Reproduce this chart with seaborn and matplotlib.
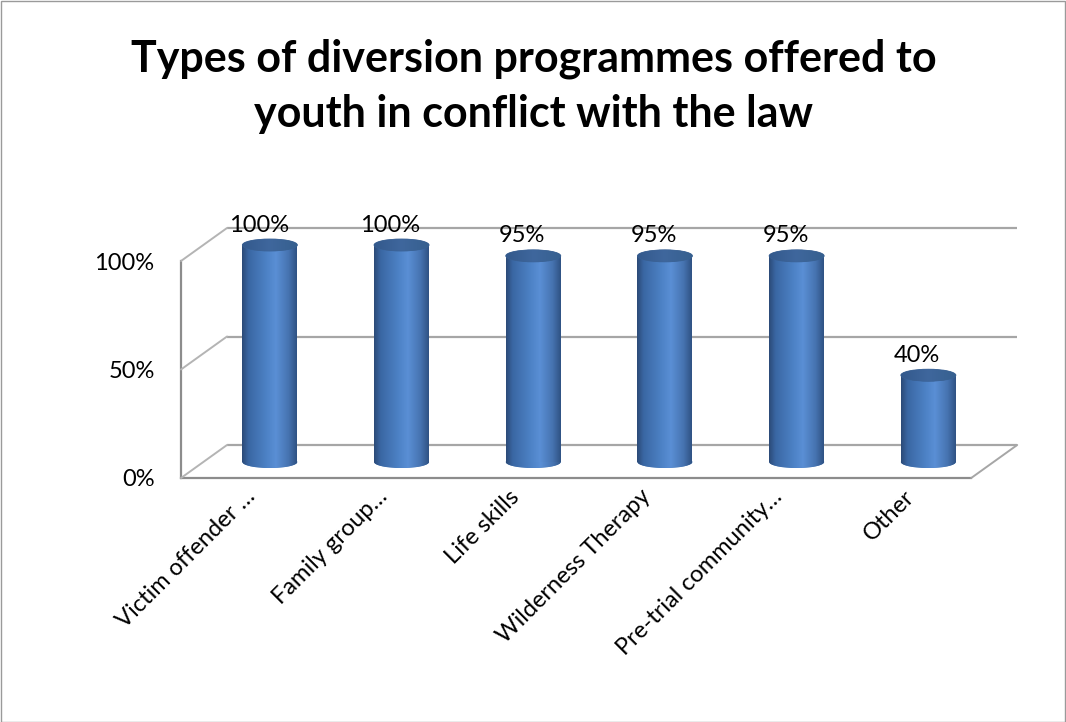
import numpy as np
import matplotlib
matplotlib.use("Agg")
import matplotlib.pyplot as plt
import matplotlib.transforms as mtransforms
from matplotlib.colors import LinearSegmentedColormap
from matplotlib.patches import Ellipse, Rectangle
from matplotlib.lines import Line2D
import seaborn as sns

# Survey results: share of respondents offering each diversion programme
categories = ["Victim offender …", "Family group…", "Life skills",
              "Wilderness Therapy", "Pre-trial community…", "Other"]
values = [100, 100, 95, 95, 95, 40]
value_labels = ["100%", "100%", "95%", "95%", "95%", "40%"]
y_ticks = [0, 50, 100]
y_tick_labels = ["0%", "50%", "100%"]
title = "Types of diversion programmes offered to\nyouth in conflict with the law"

sns.set_style("white")
plt.rcParams["font.family"] = ["Lato", "DejaVu Sans"]
plt.rcParams["text.color"] = "black"
plt.rcParams["xtick.labelcolor"] = "black"
plt.rcParams["ytick.labelcolor"] = "black"

W, H, DPI = 1066, 722, 100
fig = plt.figure(figsize=(W / DPI, H / DPI), dpi=DPI)

# plotting region in pixels: front plane origin and scale
x0_px, y0_px = 181, 478
cat_px = 131.7
pct_px = 2.17
right_px, top_px = 1030, 200
ax = fig.add_axes([x0_px / W, 1 - y0_px / H,
                   (right_px - x0_px) / W, (y0_px - top_px) / H])

# depth of the 3-D box (pixels) and mid-depth for the cylinders
depth = (46, 33)
mid = (23, 16)
back_tr = ax.transData + mtransforms.ScaledTranslation(depth[0] / DPI, depth[1] / DPI, fig.dpi_scale_trans)
mid_tr = ax.transData + mtransforms.ScaledTranslation(mid[0] / DPI, mid[1] / DPI, fig.dpi_scale_trans)

n = len(categories)
xlim = (-0.5, -0.5 + (right_px - x0_px) / cat_px)
ylim = (0, (y0_px - top_px) / pct_px)

bar_w = 55 / cat_px
sns.barplot(x=categories, y=values, color="#4f81bd", width=bar_w, ax=ax,
            saturation=1, zorder=3)
ax.set_xlim(*xlim)
ax.set_ylim(*ylim)

# back wall gridlines and left wall diagonals
grid_col = "#a6a6a6"
for v in y_ticks:
    ax.plot([-0.5, n - 0.5], [v, v], color=grid_col, lw=1.6, transform=back_tr,
            zorder=1, solid_capstyle="butt")
    p = ax.transData.transform((-0.5, v))
    fig.add_artist(Line2D([p[0], p[0] + depth[0]], [p[1], p[1] + depth[1]],
                          transform=mtransforms.IdentityTransform(),
                          color="#b4b4b4", lw=1.4, zorder=1))
# floor right edge
p = ax.transData.transform((n - 0.5, 0))
fig.add_artist(Line2D([p[0], p[0] + depth[0]], [p[1], p[1] + depth[1]],
                      transform=mtransforms.IdentityTransform(),
                      color="#a6a6a6", lw=1.4, zorder=1))

# cylinder shading
body_cmap = LinearSegmentedColormap.from_list(
    "body", [(0.0, "#2b4a77"), (0.12, "#3a67a3"), (0.45, "#4d82c6"),
             (0.62, "#5a8fd5"), (0.85, "#4673b0"), (1.0, "#2f5283")])
top_cmap = LinearSegmentedColormap.from_list(
    "top", [(0.0, "#33598c"), (0.5, "#3f679d"), (1.0, "#36608f")])
grad = np.linspace(0, 1, 256).reshape(1, -1)
ell_h = 12 / pct_px

for patch, val, lab in zip(ax.patches, values, value_labels):
    patch.set_transform(mid_tr)
    patch.set_linewidth(0)
    bx, bw = patch.get_x(), patch.get_width()
    bh = patch.get_height()
    xc = bx + bw / 2
    bottom = Ellipse((xc, 0), bw, ell_h, transform=mid_tr, facecolor="#4f81bd",
                     lw=0, zorder=2)
    ax.add_patch(bottom)
    for clip in (bottom, patch):
        im = ax.imshow(grad, cmap=body_cmap, aspect="auto",
                       extent=(bx, bx + bw, -ell_h, bh), transform=mid_tr,
                       zorder=3, interpolation="bilinear")
        im.set_clip_path(clip)
    top = Ellipse((xc, bh), bw, ell_h, transform=mid_tr, facecolor="#3d6599",
                  edgecolor="#3a6193", lw=0.6, zorder=4)
    ax.add_patch(top)
    imt = ax.imshow(grad, cmap=top_cmap, aspect="auto",
                    extent=(bx, bx + bw, bh - ell_h, bh + ell_h), transform=mid_tr,
                    zorder=4.5, interpolation="bilinear")
    imt.set_clip_path(top)
    ax.annotate(lab, xy=(xc, val), xycoords=mid_tr, xytext=(-11, 20),
                textcoords="offset pixels", ha="center", va="center",
                fontsize=17, color="black", zorder=6)

ax.set_xlim(*xlim)
ax.set_ylim(*ylim)

# front axes: spines, ticks and labels
for s in ("top", "right"):
    ax.spines[s].set_visible(False)
for s in ("left", "bottom"):
    ax.spines[s].set_color("#8c8c8c")
    ax.spines[s].set_linewidth(1.6)
ax.spines["left"].set_bounds(0, 100)
ax.spines["bottom"].set_bounds(-0.5, n - 0.5)

ax.set_yticks(y_ticks)
ax.set_yticklabels(y_tick_labels, fontsize=17)
ax.tick_params(axis="y", length=9, width=1.4, color="#8c8c8c", pad=10)

ax.set_xticks(np.arange(n))
ax.set_xticklabels(categories, rotation=45, ha="right", va="top",
                   rotation_mode="anchor", fontsize=17)
ax.set_xticks(np.arange(n + 1) - 0.5, minor=True)
ax.tick_params(axis="x", which="major", length=0, pad=0)
ax.tick_params(axis="x", which="minor", length=7, width=1.4, color="#8c8c8c",
               direction="out")
lab_shift = mtransforms.ScaledTranslation(-2 / DPI, -8 / DPI, fig.dpi_scale_trans)
for t in ax.get_xticklabels():
    t.set_transform(t.get_transform() + lab_shift)
ax.set_xlabel("")
ax.set_ylabel("")

fig.text(534 / W, 1 - 86 / H, title, ha="center", va="center",
         fontsize=31, fontweight="bold", linespacing=1.45, color="black")

fig.add_artist(Rectangle((0.5 / W, 0.5 / H), 1 - 1.5 / W, 1 - 1.5 / H,
                         transform=fig.transFigure, fill=False,
                         edgecolor="#9a9a9a", lw=1.0))

fig.savefig("out.png", dpi=DPI)
